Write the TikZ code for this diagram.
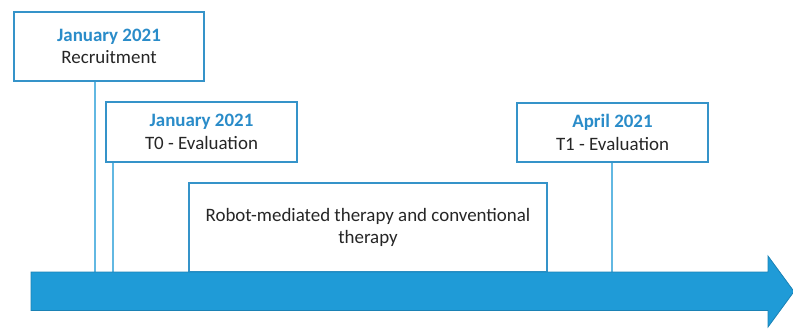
\documentclass[tikz,border=0pt]{standalone}
\usepackage{fontspec}
\setmainfont{Carlito}
\usetikzlibrary{positioning}
\definecolor{barblue}{HTML}{1F9BD7}
\definecolor{baredge}{HTML}{1A82B5}
\definecolor{boxblue}{HTML}{3593C9}
\definecolor{tickblue}{HTML}{62B8E2}
\definecolor{dateblue}{HTML}{2A8CC9}
\definecolor{txtgray}{HTML}{262626}
\tikzset{
  event/.style={draw=boxblue,line width=1.1pt,fill=white,inner sep=0pt,
    align=center,text=txtgray,font=\fontsize{14.2}{16.8}\selectfont},
  tick/.style={draw=tickblue,line width=1.1pt},
}
\newcommand{\when}[1]{\textcolor{dateblue}{\bfseries #1}}

\begin{document}
\begin{tikzpicture}[x=0.75pt,y=-0.75pt]
\useasboundingbox (0,0) rectangle (793,329);
%\draw[help lines] (0,0) grid[step=50] (793,329);
\node[event,minimum width=190*0.75pt,minimum height=69*0.75pt] (rec) at (109,46.5)
  {\when{January 2021}\\Recruitment};
\node[event,minimum width=191*0.75pt,minimum height=60*0.75pt] (t0) at (201.5,132)
  {\when{January 2021}\\T0 - Evaluation};
\node[event,minimum width=191*0.75pt,minimum height=59*0.75pt] (t1) at (612.5,132.5)
  {\when{April 2021}\\T1 - Evaluation};
\node[event,minimum width=358*0.75pt,minimum height=89*0.75pt] (ther) at (368,227.5)
  {Robot-mediated therapy and conventional\\therapy};
%
\foreach \n/\x in {rec/95,t0/113,t1/612}\coordinate (a-\n) at (\x,272);
\foreach \n in {rec,t0,t1}\draw[tick] (\n.south -| a-\n) -- (a-\n);
% time axis
\draw[fill=barblue,draw=baredge,line width=.6pt] (31,272) -- (768,272) -- (768,256)
  -- (794,291.5) -- (768,327) -- (768,310.5) -- (31,310.5) -- cycle;
\end{tikzpicture}
\end{document}
